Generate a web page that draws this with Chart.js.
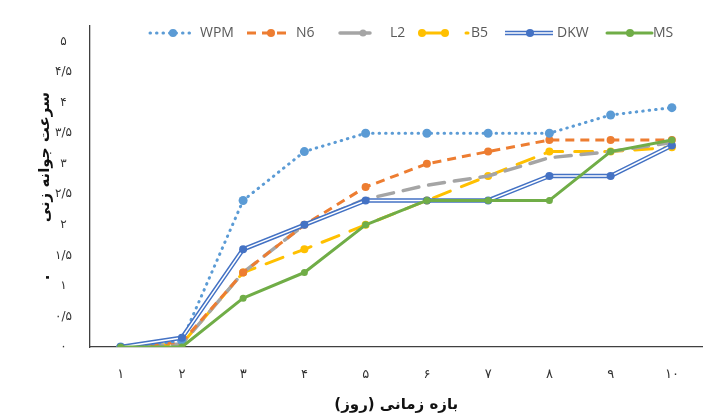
<!DOCTYPE html>
<html>
<head>
<meta charset="utf-8">
<script src="https://cdn.jsdelivr.net/npm/chart.js@4/dist/chart.umd.min.js"></script>
<style>
  html, body { margin: 0; padding: 0; background: #fff; }
  #wrap { width: 707px; height: 416px; }
</style>
</head>
<body>
<div id="wrap"><canvas id="chart"></canvas></div>
<script>
// data
const days = ['۱', '۲', '۳', '۴', '۵', '۶', '۷', '۸', '۹', '۱۰'];
const yTickLabels = ['۰', '۰/۵', '۱', '۱/۵', '۲', '۲/۵', '۳', '۳/۵', '۴', '۴/۵', '۵'];
const wpm = [0, 0.1, 2.4, 3.2, 3.5, 3.5, 3.5, 3.5, 3.8, 3.92];
const n6 = [0, 0.08, 1.22, 2.0, 2.62, 3.0, 3.2, 3.39, 3.39, 3.39];
const l2 = [0, 0.05, 1.22, 2.0, 2.42, 2.65, 2.8, 3.1, 3.2, 3.35];
const b5 = [0, 0.05, 1.22, 1.6, 2.0, 2.4, 2.8, 3.2, 3.2, 3.27];
const dkw = [0, 0.15, 1.6, 2.0, 2.4, 2.4, 2.4, 2.8, 2.8, 3.3];
const ms = [0, 0, 0.8, 1.22, 2.0, 2.4, 2.4, 2.4, 3.2, 3.39];

const xTitle = 'بازه زمانی (روز)\u200F';
const yTitle = '.          سرعت جوانه زنی';

// series styles
const series = [
    { label: 'WPM', data: wpm, color: '#5B9BD5', width: 3, dash: [0.5, 6], cap: 'round', radius: 4.5, order: 3 },
    { label: 'N6', data: n6, color: '#ED7D31', width: 3, dash: [9, 6], cap: 'butt', radius: 4, order: 4 },
    { label: 'L2', data: l2, color: '#A5A5A5', width: 3.5, dash: [16, 10], cap: 'round', radius: 0, order: 5 },
    { label: 'B5', data: b5, color: '#FFC000', width: 3, dash: [18, 12], cap: 'round', radius: 4, order: 6 },
    { label: 'DKW', data: dkw, color: '#4472C4', width: 4.5, dash: [], cap: 'butt', radius: 0, order: 2 },
    { label: 'MS', data: ms, color: '#70AD47', width: 3, dash: [], cap: 'round', radius: 3.5, order: 0 }
];

// legend layout: line start/end, marker positions, text start
const legendY = 33;
const legendItems = [
    { x0: 150, x1: 192, marks: [173], tx: 200 },
    { x0: 247, x1: 292, marks: [271], tx: 296 },
    { x0: 340, x1: 370, marks: [363], tx: 390 },
    { x0: 420, x1: 446, marks: [422, 445], tx: 471, dot: 466 },
    { x0: 505, x1: 553, marks: [530], tx: 557 },
    { x0: 607, x1: 652, marks: [630], tx: 653 }
];

const datasets = series.map(s => ({
    label: s.label,
    data: s.data,
    borderColor: s.color,
    backgroundColor: s.color,
    borderWidth: s.width,
    borderDash: s.dash,
    borderCapStyle: s.cap,
    borderJoinStyle: 'round',
    pointRadius: s.radius,
    pointBorderWidth: 0,
    pointBackgroundColor: s.color,
    tension: 0,
    order: s.order
}));
// white core of the DKW double line, with the DKW markers on top
datasets.push({
    label: 'DKW-inner',
    data: dkw,
    borderColor: '#ffffff',
    borderWidth: 1.6,
    pointRadius: 4,
    pointBorderWidth: 0,
    pointBackgroundColor: '#4472C4',
    tension: 0,
    order: 1
});

const legendPlugin = {
    id: 'excelLegend',
    afterDraw(chart) {
        const ctx = chart.ctx;
        ctx.save();
        series.forEach((s, i) => {
            const it = legendItems[i];
            ctx.beginPath();
            ctx.moveTo(it.x0, legendY);
            ctx.lineTo(it.x1, legendY);
            ctx.strokeStyle = s.color;
            ctx.lineWidth = s.label === 'DKW' ? 4.5 : s.width;
            ctx.lineCap = s.cap;
            ctx.setLineDash(s.label === 'B5' || s.label === 'L2' ? [] : s.dash);
            ctx.stroke();
            if (s.label === 'DKW') {
                ctx.beginPath();
                ctx.moveTo(it.x0, legendY);
                ctx.lineTo(it.x1, legendY);
                ctx.strokeStyle = '#fff';
                ctx.lineWidth = 1.6;
                ctx.stroke();
            }
            if (it.dot) {
                ctx.beginPath();
                ctx.moveTo(it.dot, legendY);
                ctx.lineTo(it.dot + 2, legendY);
                ctx.strokeStyle = s.color;
                ctx.lineWidth = 3;
                ctx.stroke();
            }
            ctx.setLineDash([]);
            ctx.fillStyle = s.color;
            it.marks.forEach(mx => {
                ctx.beginPath();
                ctx.arc(mx, legendY, s.label === 'L2' ? 3.5 : 4, 0, Math.PI * 2);
                ctx.fill();
            });
            ctx.fillStyle = '#595959';
            ctx.font = '14px "Open Sans"';
            ctx.textAlign = 'left';
            ctx.textBaseline = 'middle';
            ctx.fillText(s.label, it.tx, legendY);
        });
        ctx.restore();
    }
};

const config = {
    type: 'line',
    data: { labels: days, datasets },
    options: {
        responsive: true,
        maintainAspectRatio: false,
        animation: false,
        layout: { padding: { left: 0, right: 1, top: 15, bottom: 0 } },
        plugins: {
            legend: { display: false },
            tooltip: { enabled: false }
        },
        scales: {
            x: {
                offset: true,
                grid: { display: false, drawTicks: false },
                border: { display: true, color: '#404040', width: 1.3 },
                ticks: {
                    color: '#333',
                    font: { family: 'DejaVu Sans', size: 13 },
                    padding: 20
                },
                title: {
                    display: true,
                    text: xTitle,
                    color: '#111',
                    font: { family: 'DejaVu Sans', size: 15, weight: 'bold' },
                    padding: { top: 0, bottom: 2 }
                },
                afterFit: s => { s.height = 69; }
            },
            y: {
                min: 0,
                max: 5.27,
                grid: { display: false, drawTicks: false },
                border: { display: true, color: '#404040', width: 1.3 },
                afterBuildTicks: s => {
                    s.ticks = yTickLabels.map((t, i) => ({ value: i * 0.5 }));
                },
                ticks: {
                    color: '#333',
                    font: { family: 'DejaVu Sans', size: 12 },
                    crossAlign: 'center',
                    padding: 18,
                    callback: (v, i) => yTickLabels[i]
                },
                title: {
                    display: true,
                    text: yTitle,
                    color: '#111',
                    font: { family: 'DejaVu Sans', size: 15, weight: 'bold' },
                    padding: { top: 36, bottom: 0 }
                },
                afterFit: s => { s.width = 90; }
            }
        }
    },
    plugins: [legendPlugin]
};

const chart = new Chart(document.getElementById('chart'), config);
</script>
</body>
</html>
